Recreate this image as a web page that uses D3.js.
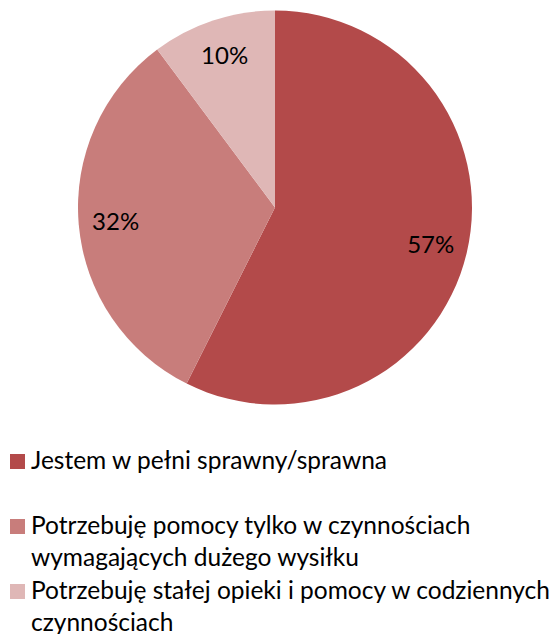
<!DOCTYPE html>
<html>
<head>
<meta charset="utf-8">
<script src="https://cdn.jsdelivr.net/npm/d3@7"></script>
<style>
  body { margin: 0; background: #fff; }
  text { font-family: Lato, "Open Sans", sans-serif; fill: #000; }
</style>
</head>
<body>
<div id="chart"></div>
<script>
// chart data
var categories = [
  "Jestem w pełni sprawny/sprawna",
  "Potrzebuję pomocy tylko w czynnościach wymagających dużego wysiłku",
  "Potrzebuję stałej opieki i pomocy w codziennych czynnościach"
];
var values = [57.4, 32.4, 10.2];
var colors = ["#B34A4A", "#C87D7B", "#DFB7B6"];

var width = 558,
   height = 634,
   cx = 275,
   cy = 207.5,
   radius = 197;

var svg = d3.select("#chart").append("svg")
   .attr("width", width)
   .attr("height", height);

var pie = d3.pie().sort(null).value(function(d) { return d; });
var arcs = pie(values);

var arc = d3.arc().innerRadius(0).outerRadius(radius);
var labelArc = d3.arc().innerRadius(160).outerRadius(160);

var g = svg.append("g").attr("transform", "translate(" + cx + "," + cy + ")");

g.selectAll("path")
   .data(arcs)
   .enter().append("path")
   .attr("d", arc)
   .attr("fill", function(d, i) { return colors[i]; });

g.selectAll("text.pct")
   .data(arcs)
   .enter().append("text")
   .attr("class", "pct")
   .attr("transform", function(d) { return "translate(" + labelArc.centroid(d) + ")"; })
   .attr("text-anchor", "middle")
   .attr("dy", "0.35em")
   .style("font-size", "24px")
   .text(function(d) { return Math.round(d.data) + "%"; });

// legend
var legendY = d3.scaleLinear().domain([0, 1]).range([454, 519]),
   lineH = 31.5,
   maxW = 522;

var legend = svg.append("g");

categories.forEach(function(name, i) {
   var top = legendY(i);
   legend.append("rect")
      .attr("x", 10).attr("y", top)
      .attr("width", 15).attr("height", 15)
      .attr("fill", colors[i]);

   var t = legend.append("text")
      .attr("x", 31)
      .attr("y", top + 15)
      .style("font-size", "24.5px");

   // simple word wrap
   var words = name.split(" "), line = [];
   var ts = t.append("tspan").attr("x", 31).attr("dy", 0);
   words.forEach(function(w) {
      line.push(w);
      ts.text(line.join(" "));
      if (ts.node().getComputedTextLength() > maxW && line.length > 1) {
         line.pop();
         ts.text(line.join(" "));
         line = [w];
         ts = t.append("tspan").attr("x", 31).attr("dy", lineH).text(w);
      }
   });
});
</script>
</body>
</html>
